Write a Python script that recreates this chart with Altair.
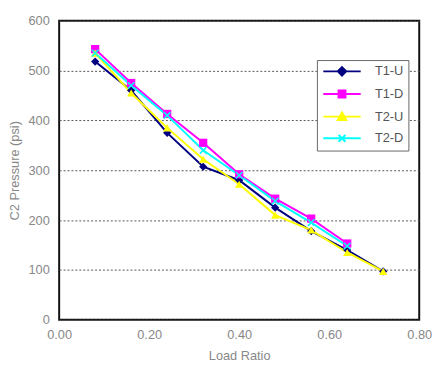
import altair as alt
import pandas as pd

load_ratio = [0.08, 0.16, 0.24, 0.32, 0.40, 0.48, 0.56, 0.64, 0.72]
t1_u = [518, 460, 375, 307, 280, 225, 178, 140, 97]
t1_d = [543, 475, 413, 355, 292, 243, 203, 153]
t2_u = [535, 455, 385, 322, 272, 210, 180, 135, 97]
t2_d = [535, 470, 410, 340, 290, 238, 195, 148]

series_names = ["T1-U", "T1-D", "T2-U", "T2-D"]
series_vals = [t1_u, t1_d, t2_u, t2_d]
colors = ["#000080", "#FF00FF", "#FFFF00", "#00FFFF"]
point_shapes = ["diamond", "square", "triangle-up", "M-1,-1L1,1M-1,1L1,-1"]
legend_shapes = [
    "M-3.8,0H3.8M0,-0.85L0.85,0L0,0.85L-0.85,0Z",
    "M-3.8,0H3.8M-0.7,-0.7H0.7V0.7H-0.7Z",
    "M-3.8,0H3.8M0,-0.85L0.85,0.7H-0.85Z",
    "M-3.8,0H3.8M-0.7,-0.7L0.7,0.7M-0.7,0.7L0.7,-0.7",
]

rows = []
for name, vals in zip(series_names, series_vals):
    for x, v in zip(load_ratio, vals):
        rows.append({"series": name, "load": x, "pressure": v})
df = pd.DataFrame(rows)

font = "Liberation Sans"
xenc = alt.X("load:Q", scale=alt.Scale(domain=[0, 0.8]),
             axis=alt.Axis(values=[0, 0.2, 0.4, 0.6, 0.8], format=".2f", title="Load Ratio",
                           grid=False, ticks=False, domain=False, labelPadding=9,
                           labelFlush=False, titlePadding=8))
yenc = alt.Y("pressure:Q", scale=alt.Scale(domain=[0, 600]),
             axis=alt.Axis(values=[0, 100, 200, 300, 400, 500, 600], title="C2 Pressure (psi)",
                           grid=True, gridDash=[2, 2], gridColor="#555555", gridWidth=1,
                           ticks=False, domain=False, labelPadding=10, titlePadding=7))

base = alt.Chart(df)
layers = []
for name, col in zip(series_names, colors):
    layers.append(base.transform_filter(alt.datum.series == name)
                  .mark_line(strokeWidth=2, color=col).encode(x=xenc, y=yenc))
for name, shp, col in zip(series_names, point_shapes, colors):
    sub = base.transform_filter(alt.datum.series == name)
    if name == "T2-D":
        pts = sub.mark_point(shape=shp, size=45, filled=False, strokeWidth=1.5,
                             opacity=1, color=col).encode(x=xenc, y=yenc)
    else:
        pts = sub.mark_point(shape=shp, size=70, filled=True, opacity=1,
                             color=col).encode(x=xenc, y=yenc)
    layers.append(pts)

col_scale = alt.Scale(domain=series_names, range=colors)
leg_def = alt.Legend(title=None, orient="none", legendX=262, legendY=40)
leg = base.transform_filter("false").mark_point(filled=True, strokeWidth=2).encode(
    x=xenc, y=yenc,
    fill=alt.Fill("series:N", scale=col_scale, legend=leg_def),
    stroke=alt.Stroke("series:N", scale=col_scale, legend=leg_def),
    shape=alt.Shape("series:N", scale=alt.Scale(domain=series_names, range=legend_shapes),
                    legend=leg_def),
)
layers.append(leg)

chart = alt.layer(*layers).properties(
    width=366, height=304,
    autosize=alt.AutoSizeParams(type="none"),
    padding={"left": 52, "top": 10, "right": 14, "bottom": 40},
).configure_view(
    stroke="#111111", strokeWidth=2
).configure_axis(
    labelFont=font, titleFont=font, labelFontSize=13, titleFontSize=13,
    labelColor="#888888", titleColor="#888888", titleFontWeight="normal",
).configure_legend(
    strokeColor="#666666", padding=5, fillColor="white",
    symbolSize=100, symbolStrokeWidth=2, symbolOpacity=1,
    labelFont=font, labelFontSize=13, labelColor="#555555", labelOffset=27,
    rowPadding=7, symbolOffset=14,
)

chart.save("out.html", embed_options={"renderer": "svg", "actions": False})
